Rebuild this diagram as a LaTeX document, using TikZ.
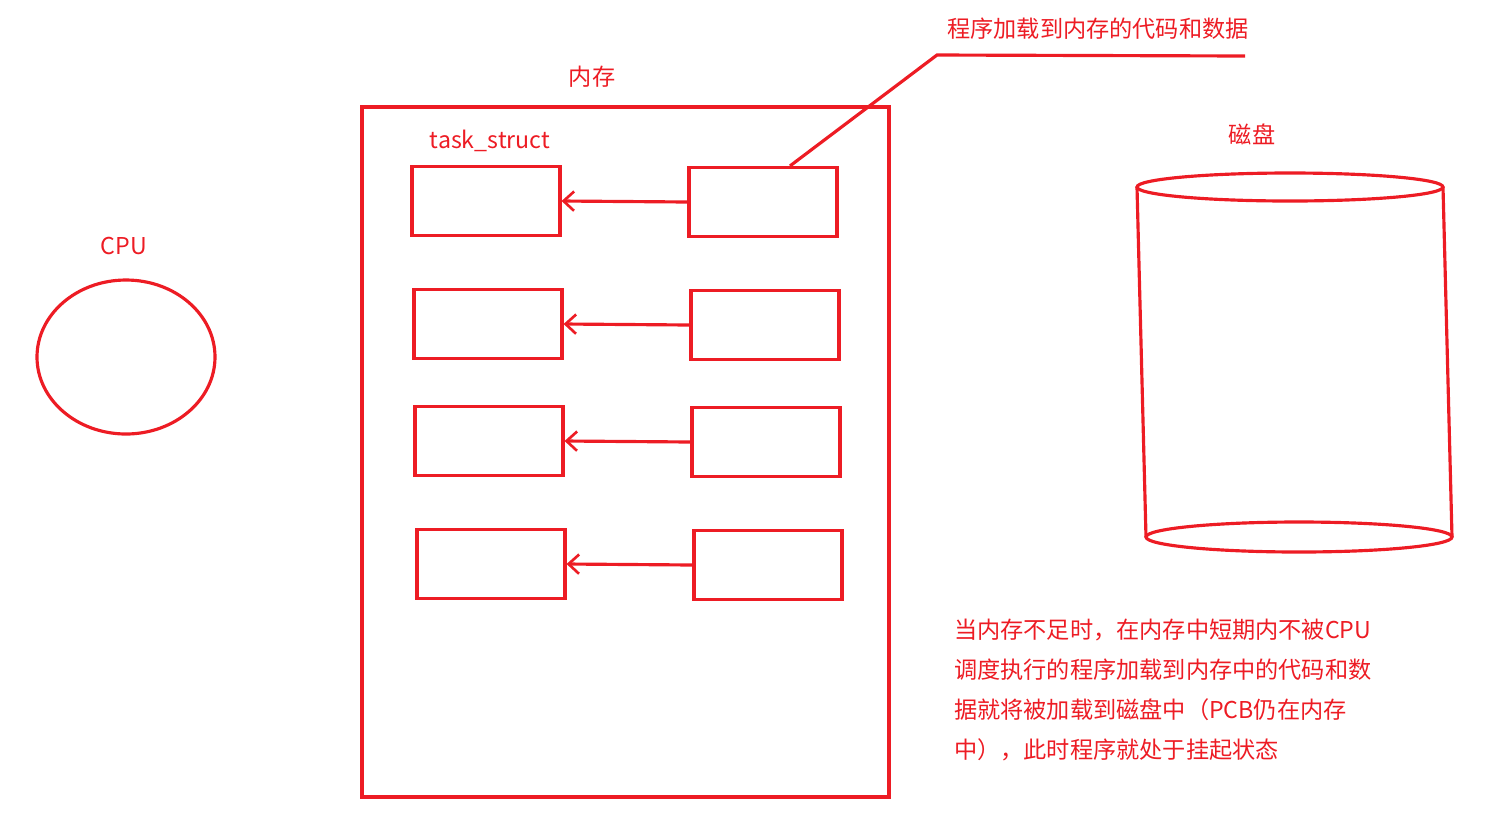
\documentclass[tikz,border=0pt]{standalone}
\usepackage{fontspec}
\setmainfont{Noto Sans CJK SC}
\usetikzlibrary{math,arrows.meta}

\definecolor{penred}{HTML}{ED1C24}
\tikzset{
	pen/.style={draw=penred, line width=1.8pt},
	memslot/.style={pen, rectangle, minimum width=2.96cm, minimum height=1.38cm, inner sep=0pt},
	redtext/.style={text=penred, font=\fontsize{13.2}{16}\selectfont, inner sep=1pt},
	loadarrow/.style={pen, -{Straight Barb[length=6pt,width=11pt,line width=1.5pt]}},
}

\begin{document}
\begin{tikzpicture}[x=0.02cm, y=-0.02cm]
	\useasboundingbox (0,0) rectangle (1502,823);

	% CPU
	\node[redtext] (cpulabel) at (124,246) {CPU};
	\draw[pen] (126,357) ellipse [x radius=89, y radius=77];

	% Memory
	\node[redtext] (memlabel) at (592,77) {内存};
	\draw[pen] (362,107) rectangle (889,797);
	\node[redtext] (tslabel) at (490,141) {task\_struct};

	% task_struct slots and loaded code/data
	\node[memslot] (ts1) at (486,201) {};
	\node[memslot] (ts2) at (488,324) {};
	\node[memslot] (ts3) at (489,441) {};
	\node[memslot] (ts4) at (491,564) {};
	\node[memslot] (cd1) at (763,202) {};
	\node[memslot] (cd2) at (765,325) {};
	\node[memslot] (cd3) at (766,442) {};
	\node[memslot] (cd4) at (768,565) {};

	\foreach \i in {1,...,4}
		\draw[loadarrow] (cd\i.west) -- (ts\i.east);

	% Callout
	\coordinate (bend) at (937,55);
	\coordinate (tail) at (1245,56);
	\draw[pen] ([xshift=0.54cm]cd1.north) -- (bend) -- (tail);
	\node[redtext] (codelabel) at (1098,29) {程序加载到内存的代码和数据};

	% Disk
	\node[redtext] (disklabel) at (1252,134) {磁盘};
	\draw[pen] (1290,187) ellipse [x radius=153, y radius=14];
	\draw[pen] (1299,537) ellipse [x radius=153, y radius=15];
	\draw[pen] (1137,187) -- (1146,537);
	\draw[pen] (1443,187) -- (1452,537);

	% Note
	\node[redtext, anchor=north west, align=left, font=\fontsize{13.2}{22.7}\selectfont] (note) at (952,617)
		{当内存不足时，在内存中短期内不被CPU\\
		 调度执行的程序加载到内存中的代码和数\\
		 据就将被加载到磁盘中（PCB仍在内存\\
		 中），此时程序就处于挂起状态};
\end{tikzpicture}
\end{document}
